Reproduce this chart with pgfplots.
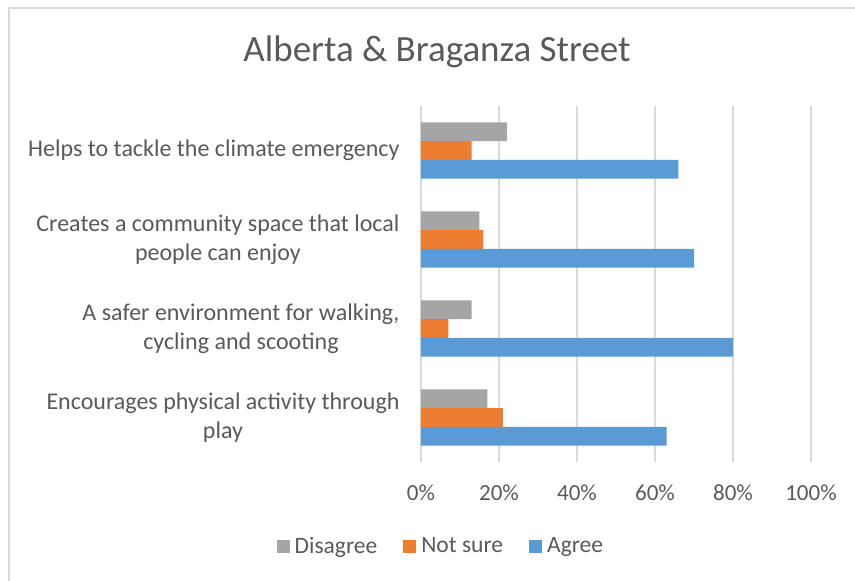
\documentclass[border=0pt]{standalone}
\usepackage{fontspec}
\setmainfont{Carlito}
\usepackage{pgfplots}
\pgfplotsset{compat=1.18}
\definecolor{cDis}{HTML}{A5A5A5}
\definecolor{cNot}{HTML}{ED7D31}
\definecolor{cAgr}{HTML}{5B9BD5}
\definecolor{cTxt}{HTML}{595959}
\definecolor{cGrid}{HTML}{D9D9D9}
\begin{document}
\begin{tikzpicture}
\path[use as bounding box] (0,0) rectangle (855pt,581pt);
\draw[cGrid, line width=1.5pt] (9pt,0pt) -- (9pt,573pt) -- (856pt,573pt);
\node[text=cTxt, font=\fontsize{37}{40}\selectfont] at (437pt,529pt) {Alberta \& Braganza Street};
\begin{axis}[
    at={(421pt,119pt)}, anchor=south west,
    scale only axis, width=390pt, height=356pt,
    xbar, bar width=0.21,
    xmin=0, xmax=100, ymin=-0.5, ymax=3.5,
    xtick={0,20,40,60,80,100},
    xticklabel={\pgfmathprintnumber{\tick}\%},
    /pgf/number format/assume math mode=true,
    ytick={0,1,2,3},
    yticklabels={{Encourages physical activity through\\play},
                 {A safer environment for walking,\\cycling and scooting},
                 {Creates a community space that local\\people can enjoy},
                 {Helps to tackle the climate emergency}},
    xmajorgrids, grid style={cGrid, line width=1.5pt},
    axis line style={draw=none}, major tick length=0pt,
    tick label style={text=cTxt, font=\fontsize{23}{28.5}\selectfont},
    yticklabel style={align=center, xshift=-18pt, font=\fontsize{24}{28.5}\selectfont},
    xticklabel style={yshift=-19pt},
    legend style={at={(0.051,-0.236)}, anchor=center, draw=none, fill=none,
                  legend columns=3, font=\fontsize{23.5}{28}\selectfont, text=cTxt,
                  /tikz/every odd column/.append style={column sep=3pt},
                  /tikz/every even column/.append style={column sep=24pt}},
    legend image code/.code={\fill[#1] (0pt,-6.5pt) rectangle (13pt,6.5pt);},
    legend cell align=left,
]
\addplot[fill=cDis, draw=none, bar shift=0.21] coordinates {(17,0) (13,1) (15,2) (22,3)};
\addplot[fill=cNot, draw=none, bar shift=0] coordinates {(21,0) (7,1) (16,2) (13,3)};
\addplot[fill=cAgr, draw=none, bar shift=-0.21] coordinates {(63,0) (80,1) (70,2) (66,3)};
\legend{Disagree, Not sure, Agree}
\end{axis}
\end{tikzpicture}
\end{document}
